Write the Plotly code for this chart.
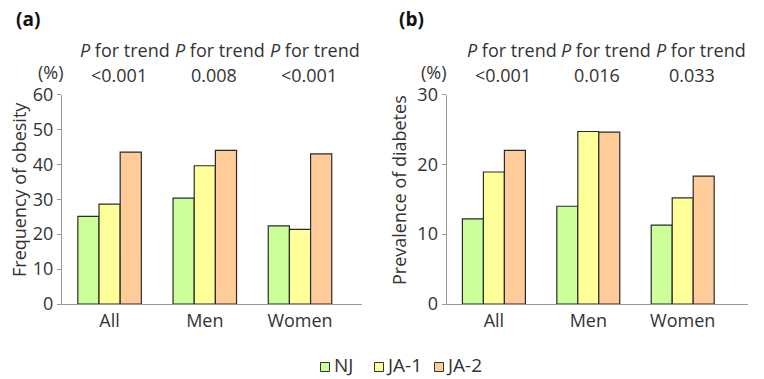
import plotly.graph_objects as go

groups = ["All", "Men", "Women"]
series = ["NJ", "JA-1", "JA-2"]
colors = ["#ccff99", "#ffff99", "#ffcc99"]

obesity = {
    "NJ": [25.1, 30.3, 22.4],
    "JA-1": [28.6, 39.6, 21.4],
    "JA-2": [43.5, 44.0, 43.0],
}
diabetes = {
    "NJ": [12.2, 14.0, 11.3],
    "JA-1": [18.9, 24.7, 15.2],
    "JA-2": [22.0, 24.6, 18.3],
}
p_obesity = ["<0.001", "0.008", "<0.001"]
p_diabetes = ["<0.001", "0.016", "0.033"]

FONT = "Open Sans"
TXT = "#333333"
W, H = 764, 379
FS = 18

fig = go.Figure()
for i, s in enumerate(series):
    fig.add_trace(go.Bar(x=groups, y=obesity[s], name=s, xaxis="x", yaxis="y", showlegend=False,
                         marker=dict(color=colors[i], line=dict(color="#2a2a2a", width=1.2))))
    fig.add_trace(go.Bar(x=groups, y=diabetes[s], name=s, xaxis="x2", yaxis="y2", showlegend=False,
                         marker=dict(color=colors[i], line=dict(color="#2a2a2a", width=1.2))))

# legend built on an auxiliary axis (pixel-like units)
leg_x = [325, 379, 439]
fig.add_trace(go.Scatter(x=leg_x, y=[0, 0, 0], xaxis="x3", yaxis="y3", mode="markers",
                         marker=dict(symbol="square", size=9, color=colors,
                                     line=dict(color="#333333", width=1)),
                         showlegend=False, hoverinfo="skip", cliponaxis=False))
fig.add_trace(go.Scatter(x=[v + 9 for v in leg_x], y=[0, 0, 0], xaxis="x3", yaxis="y3", mode="text",
                         text=series, textposition="middle right",
                         textfont=dict(family=FONT, size=19, color=TXT),
                         showlegend=False, hoverinfo="skip", cliponaxis=False))

ydom = [1 - 304 / H, 1 - 94.5 / H]
xa = dict(ticks="", showline=True, linecolor="#999999", linewidth=1.3,
          tickfont=dict(family=FONT, size=FS, color=TXT), showgrid=False, zeroline=False)
ya = dict(ticks="outside", ticklen=4, tickcolor="#999999", showline=True, linecolor="#999999",
          linewidth=1.3, tickfont=dict(family=FONT, size=FS, color=TXT), showgrid=False,
          zeroline=False)
fig.update_layout(
    xaxis=dict(domain=[62 / W, 362 / W], anchor="y", **xa),
    xaxis2=dict(domain=[446.7 / W, 747.7 / W], anchor="y2", **xa),
    yaxis=dict(domain=ydom, range=[0, 60], tickvals=[0, 10, 20, 30, 40, 50, 60], anchor="x", **ya),
    yaxis2=dict(domain=ydom, range=[0, 30], tickvals=[0, 10, 20, 30], anchor="x2", **ya),
    xaxis3=dict(domain=[0, 1], range=[0, W], visible=False, anchor="y3"),
    yaxis3=dict(domain=[0, 24 / H], range=[-1, 1], visible=False, anchor="x3"),
)

ann = []
def add_panel(xref, xpos, label, ptexts, off1, off2, pct_x):
    ann.append(dict(text="<b>" + label + "</b>", xref="paper", yref="paper",
                    x=xpos / W, y=1 - 19 / H, showarrow=False,
                    font=dict(family=FONT, size=19, color="#111111"), xanchor="center", yanchor="middle"))
    ann.append(dict(text="(%)", xref="paper", yref="paper", x=pct_x / W, y=1 - 72 / H,
                    showarrow=False, font=dict(family=FONT, size=FS, color=TXT),
                    xanchor="center", yanchor="middle"))
    for g, pt in zip(groups, ptexts):
        ann.append(dict(text="<i>P</i> for trend", xref=xref, yref="paper", x=g, y=1 - 50 / H,
                        xshift=off1, showarrow=False, font=dict(family=FONT, size=FS, color=TXT),
                        xanchor="center", yanchor="middle"))
        ann.append(dict(text=pt, xref=xref, yref="paper", x=g, y=1 - 75 / H,
                        xshift=off2, showarrow=False, font=dict(family=FONT, size=FS, color=TXT),
                        xanchor="center", yanchor="middle"))

add_panel("x", 28, "(a)", p_obesity, 15, 9, 51)
add_panel("x2", 411, "(b)", p_diabetes, 18, 9, 434)
ann.append(dict(text="Frequency of obesity", xref="paper", yref="paper", x=19 / W, y=1 - 190 / H,
                textangle=-90, showarrow=False, font=dict(family=FONT, size=FS, color=TXT),
                xanchor="center", yanchor="middle"))
ann.append(dict(text="Prevalence of diabetes", xref="paper", yref="paper", x=399 / W, y=1 - 190 / H,
                textangle=-90, showarrow=False, font=dict(family=FONT, size=FS, color=TXT),
                xanchor="center", yanchor="middle"))

fig.update_layout(
    annotations=ann,
    width=W, height=H, autosize=False,
    margin=dict(l=0, r=0, t=0, b=0, autoexpand=False),
    paper_bgcolor="white", plot_bgcolor="white",
    barmode="group", bargap=0.333, bargroupgap=0,
    showlegend=False,
    font=dict(family=FONT, color=TXT),
)
fig.write_html("out.html", config={"displayModeBar": False, "responsive": False},
               post_script="document.body.style.margin='0';document.body.style.overflow='hidden';")
